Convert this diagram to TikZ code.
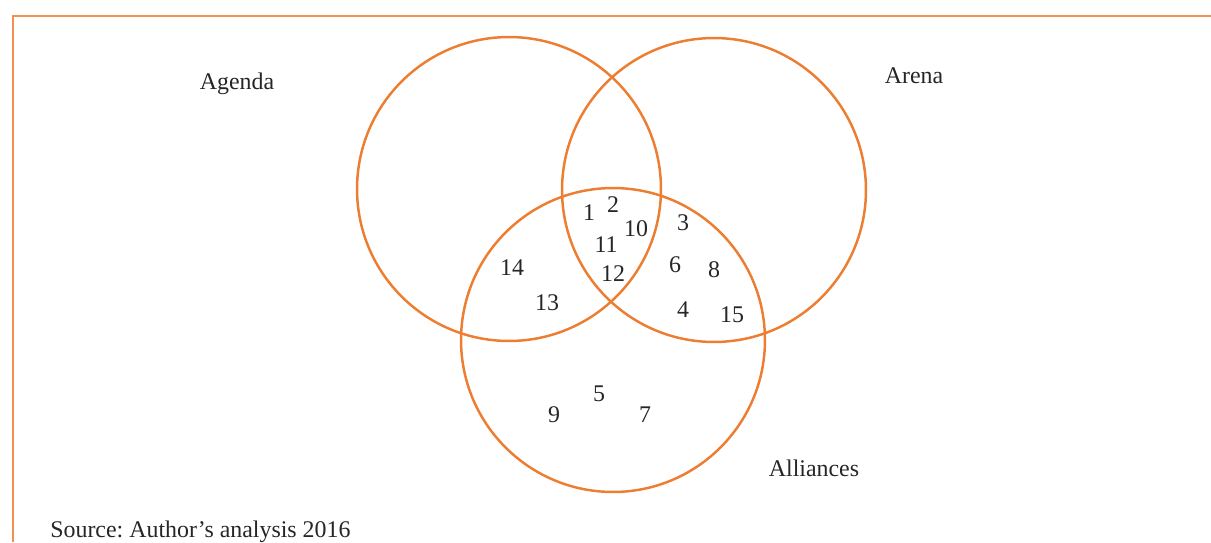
\documentclass[tikz,border=0pt]{standalone}
\usepackage{fontspec}
\setmainfont{Liberation Serif}
\frenchspacing
\definecolor{vennorange}{RGB}{237,125,49}
\tikzset{
  vennset/.style={circle, draw=vennorange, line width=1.4pt, minimum size=6.08cm, inner sep=0pt, outer sep=0pt},
  setlabel/.style={font=\fontsize{13.6}{15}\selectfont, text=black!85, yshift=-1pt},
  item/.style={font=\fontsize{13.6}{15}\selectfont, text=black!85, inner sep=1pt, yshift=-0.6pt}
}
\begin{document}
\begin{tikzpicture}[x=0.02cm,y=-0.02cm]
    \useasboundingbox (0,0) rectangle (1211,542);
    % frame
    \draw [vennorange!85, line width=1.1pt] (13,542) -- (13,16) -- (1211,16);
    % circles
    \node [vennset] (agenda) at (509,189) {};
    \node [vennset] (arena) at (714,190) {};
    \node [vennset] (alliances) at (613,340) {};
    % names
    \node [setlabel] (agendaname) at (237,82) {Agenda};
    \node [setlabel] (arenaname) at (914,74) {Arena};
    \node [setlabel] (alliancesname) at (814,467) {Alliances};
    % cases
    \node [item] (n1) at (589,212) {1};
    \node [item] (n2) at (613,204) {2};
    \node [item] (n10) at (636,228) {10};
    \node [item] (n11) at (606,244) {11};
    \node [item] (n12) at (613,273) {12};
    \node [item] (n3) at (683,222) {3};
    \node [item] (n6) at (675,264) {6};
    \node [item] (n8) at (714,269) {8};
    \node [item] (n4) at (683,309) {4};
    \node [item] (n15) at (732,314) {15};
    \node [item] (n14) at (512,267) {14};
    \node [item] (n13) at (547,302) {13};
    \node [item] (n5) at (599,393) {5};
    \node [item] (n9) at (554,414) {9};
    \node [item] (n7) at (645,414) {7};
    % source
    \node [setlabel, anchor=west, inner sep=0pt] (source) at (50,530) {Source: Author’s analysis 2016};
\end{tikzpicture}
\end{document}
